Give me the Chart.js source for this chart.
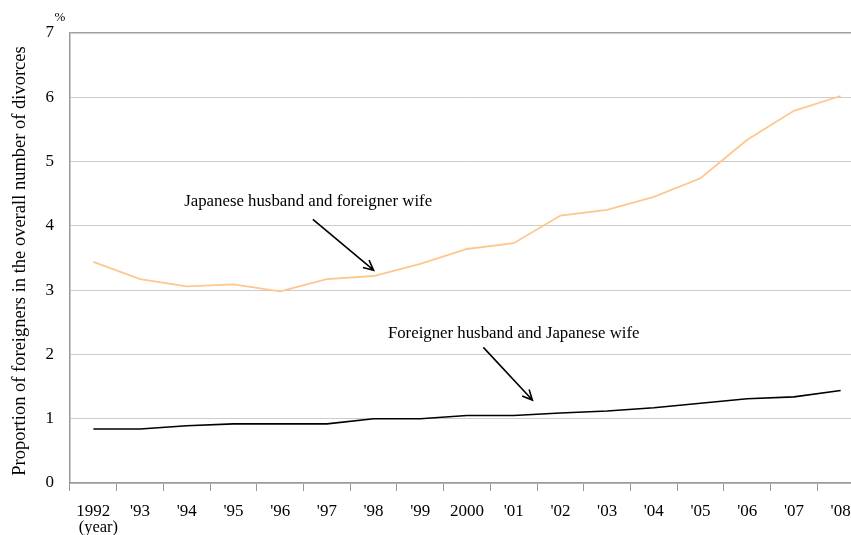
<!DOCTYPE html>
<html>
<head>
<meta charset="utf-8">
<title>Foreign divorces share</title>
<script src="https://cdn.jsdelivr.net/npm/chart.js@4/dist/chart.umd.min.js"></script>
<style>
  html, body { margin: 0; padding: 0; background: #fff; overflow: hidden; }
  #wrap { position: relative; width: 864px; height: 535px; }
</style>
</head>
<body>
<div id="wrap"><canvas id="divorceChart" width="864" height="535"></canvas></div>
<script>
const years = ['1992', "'93", "'94", "'95", "'96", "'97", "'98", "'99", '2000',
  "'01", "'02", "'03", "'04", "'05", "'06", "'07", "'08"];
const jpHusbandForeignWife = [3.44, 3.17, 3.06, 3.09, 2.98, 3.17, 3.22, 3.41, 3.64,
  3.73, 4.16, 4.25, 4.45, 4.74, 5.34, 5.79, 6.02];
const foreignHusbandJpWife = [0.84, 0.84, 0.89, 0.92, 0.92, 0.92, 1.00, 1.00, 1.05,
  1.05, 1.09, 1.12, 1.17, 1.24, 1.31, 1.34, 1.44];
const yTicks = [0, 1, 2, 3, 4, 5, 6, 7];

const serif = '"Liberation Serif", "Times New Roman", serif';

// callouts: label + arrow, positioned in category index / value units
const callouts = [
  { text: 'Japanese husband and foreigner wife', tx: 4.60, ty: 4.37,
    from: [4.70, 4.10], to: [6.0, 3.31] },
  { text: 'Foreigner husband and Japanese wife', tx: 9.00, ty: 2.32,
    from: [8.35, 2.11], to: [9.40, 1.29] }
];

function arrow(ctx, x1, y1, x2, y2) {
  const a = Math.atan2(y2 - y1, x2 - x1);
  const len = 11, spread = Math.PI / 7;
  ctx.beginPath();
  ctx.moveTo(x1, y1);
  ctx.lineTo(x2, y2);
  ctx.moveTo(x2 - len * Math.cos(a - spread), y2 - len * Math.sin(a - spread));
  ctx.lineTo(x2, y2);
  ctx.lineTo(x2 - len * Math.cos(a + spread), y2 - len * Math.sin(a + spread));
  ctx.stroke();
}

const extras = {
  id: 'extras',
  afterDraw(chart) {
    const { ctx, scales: { x, y }, chartArea } = chart;
    ctx.save();
    ctx.fillStyle = '#000';
    ctx.strokeStyle = '#000';
    ctx.lineWidth = 1.6;

    // unit marks
    ctx.font = '13px ' + serif;
    ctx.textAlign = 'center';
    ctx.textBaseline = 'middle';
    ctx.fillText('%', 60, 18);
    ctx.font = '16.5px ' + serif;
    ctx.fillText('(year)', x.getPixelForValue(0) + 5, 528);

    // y axis title
    ctx.save();
    ctx.translate(20, (chartArea.top + chartArea.bottom) / 2 + 3);
    ctx.rotate(-Math.PI / 2);
    ctx.font = '18.5px ' + serif;
    ctx.fillText('Proportion of foreigners in the overall number of divorces', 0, 0);
    ctx.restore();

    // callouts
    ctx.font = '16.8px ' + serif;
    callouts.forEach(c => {
      ctx.fillText(c.text, x.getPixelForValue(c.tx), y.getPixelForValue(c.ty));
      arrow(ctx,
        x.getPixelForValue(c.from[0]), y.getPixelForValue(c.from[1]),
        x.getPixelForValue(c.to[0]), y.getPixelForValue(c.to[1]));
    });
    ctx.restore();
  }
};

new Chart(document.getElementById('divorceChart'), {
  type: 'line',
  data: {
    labels: years,
    datasets: [
      {
        label: 'Japanese husband and foreigner wife',
        data: jpHusbandForeignWife,
        borderColor: '#ffc68e',
        borderWidth: 1.8,
        pointRadius: 0,
        tension: 0
      },
      {
        label: 'Foreigner husband and Japanese wife',
        data: foreignHusbandJpWife,
        borderColor: '#000',
        borderWidth: 1.6,
        pointRadius: 0,
        tension: 0
      }
    ]
  },
  options: {
    responsive: false,
    animation: false,
    layout: { padding: { top: 33, left: 0, right: 0, bottom: 0 } },
    plugins: {
      legend: { display: false },
      tooltip: { enabled: false }
    },
    scales: {
      x: {
        offset: true,
        grid: {
          offset: true,
          drawOnChartArea: false,
          drawTicks: true,
          tickLength: 8,
          color: '#999'
        },
        border: { color: '#999', width: 1.5 },
        ticks: {
          color: '#000',
          font: { family: serif, size: 17 },
          padding: 10,
          maxRotation: 0,
          autoSkip: false
        },
        afterFit(scale) { scale.height = 52; }
      },
      y: {
        min: yTicks[0],
        max: yTicks[yTicks.length - 1],
        afterBuildTicks(scale) { scale.ticks = yTicks.map(v => ({ value: v })); },
        grid: {
          drawTicks: false,
          color: ctx => ctx.tick && ctx.tick.value === 7 ? '#a0a0a0' : '#cccccc',
          lineWidth: ctx => ctx.tick && ctx.tick.value === 7 ? 1.5 : 1
        },
        border: { color: '#999', width: 1.5 },
        ticks: {
          color: '#000',
          font: { family: serif, size: 17 },
          padding: 16
        },
        afterFit(scale) { scale.width = 70; }
      }
    }
  },
  plugins: [extras]
});
</script>
</body>
</html>
